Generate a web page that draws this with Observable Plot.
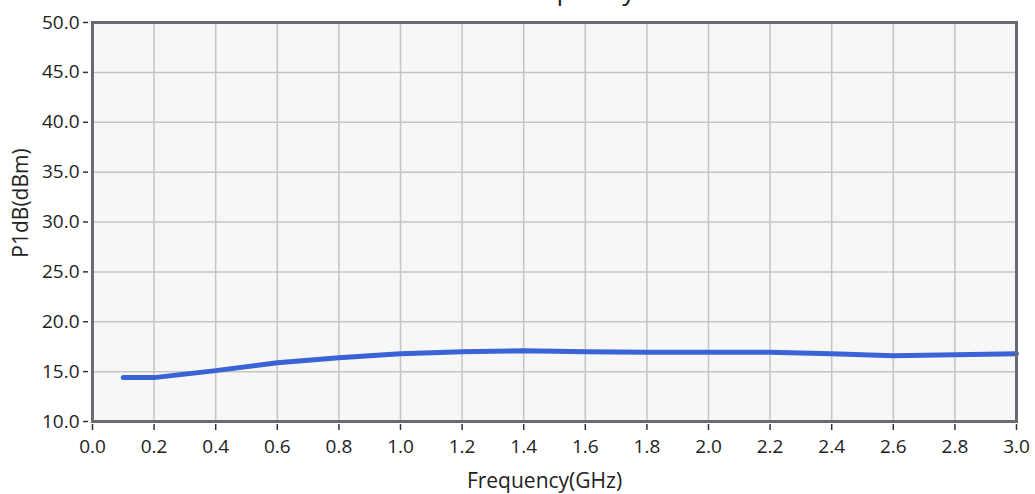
<!DOCTYPE html>
<html>
<head>
<meta charset="utf-8">
<script src="https://cdn.jsdelivr.net/npm/d3@7"></script>
<script src="https://cdn.jsdelivr.net/npm/@observablehq/plot@0.6"></script>
<style>
  html, body { margin: 0; padding: 0; background: #ffffff; }
  #chart svg { overflow: visible; display: block; }
</style>
</head>
<body>
<div id="chart"></div>
<script>
const freqGHz = [0.1, 0.2, 0.4, 0.6, 0.8, 1.0, 1.2, 1.4, 1.6, 1.8, 2.0, 2.2, 2.4, 2.6, 2.8, 3.0];
const p1dB    = [14.4, 14.4, 15.1, 15.9, 16.4, 16.8, 17.0, 17.1, 17.0, 16.95, 16.95, 16.95, 16.8, 16.6, 16.7, 16.8];
const xTicks = d3.range(0, 16).map(i => +(i * 0.2).toFixed(1));
const yTicks = [10, 15, 20, 25, 30, 35, 40, 45, 50];
const titleText = "P1dB vs. Frequency";
const xLabel = "Frequency(GHz)";
const yLabel = "P1dB(dBm)";

const data = freqGHz.map((f, i) => ({f, p: p1dB[i]}));
const font = "'Open Sans', 'Noto Sans', sans-serif";

const chart = Plot.plot({
  width: 1035,
  height: 494,
  marginLeft: 92,
  marginRight: 19,
  marginTop: 22,
  marginBottom: 73,
  style: {fontFamily: font, fontSize: "19px", color: "#222", background: "transparent"},
  x: {domain: [0, 3], ticks: xTicks, tickFormat: d => d.toFixed(1)},
  y: {domain: [10, 50], ticks: yTicks, tickFormat: d => d.toFixed(1)},
  marks: [
    Plot.frame({fill: "#f7f7f7", stroke: null}),
    Plot.gridX(xTicks, {stroke: "#c4c4c4", strokeOpacity: 1, strokeWidth: 1.5}),
    Plot.gridY(yTicks, {stroke: "#c4c4c4", strokeOpacity: 1, strokeWidth: 1.5}),
    Plot.line(data, {x: "f", y: "p", stroke: "#3a63d8", strokeWidth: 5, curve: "linear"}),
    Plot.frame({stroke: "#6a6a74", strokeWidth: 3}),
    Plot.axisX(xTicks, {tickSize: 6, tickPadding: 9, dy: 3, tickFormat: d => d.toFixed(1), label: null, stroke: "#333", strokeWidth: 1.5, fill: "#222", fontSize: 19}),
    Plot.axisY(yTicks, {tickSize: 5, tickPadding: 4, dx: -4, tickFormat: d => d.toFixed(1), label: null, stroke: "#333", strokeWidth: 1.5, fill: "#222", fontSize: 19}),
    Plot.text([xLabel], {frameAnchor: "bottom", lineAnchor: "bottom", dx: -10, dy: 66, text: d => d, fontSize: 21, fill: "#222"}),
    Plot.text([yLabel], {frameAnchor: "left", textAnchor: "middle", lineAnchor: "middle", dx: -71, dy: -19, rotate: -90, text: d => d, fontSize: 21, fill: "#222"}),
    Plot.text([titleText], {frameAnchor: "top", lineAnchor: "bottom", dx: -37, dy: -23, text: d => d, fontSize: 26, fill: "#222"})
  ]
});
document.getElementById("chart").appendChild(chart);
</script>
</body>
</html>
